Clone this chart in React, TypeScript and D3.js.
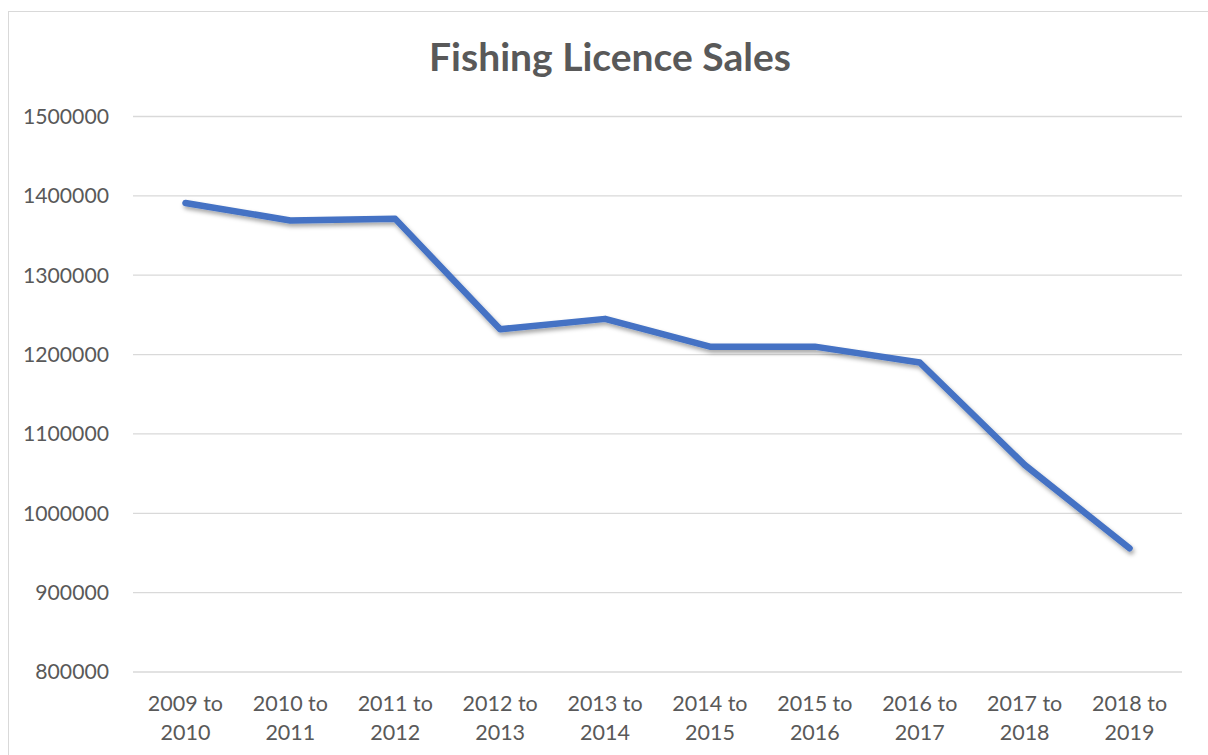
import React from "react";
import * as d3 from "d3";

const categories: string[] = [
  "2009 to 2010",
  "2010 to 2011",
  "2011 to 2012",
  "2012 to 2013",
  "2013 to 2014",
  "2014 to 2015",
  "2015 to 2016",
  "2016 to 2017",
  "2017 to 2018",
  "2018 to 2019",
];

const sales: number[] = [
  1391000, 1369000, 1371000, 1232000, 1245000, 1210000, 1210000, 1190000, 1061000, 956000,
];

const yTicks: number[] = [800000, 900000, 1000000, 1100000, 1200000, 1300000, 1400000, 1500000];

const title = "Fishing Licence Sales";

export default function App() {
  const W = 1208;
  const H = 755;
  const plotLeft = 133;
  const plotRight = 1182;
  const plotTop = 116.5;
  const plotBottom = 672;

  const x = d3.scaleBand<string>().domain(categories).range([plotLeft, plotRight]);
  const y = d3.scaleLinear().domain([800000, 1500000]).range([plotBottom, plotTop]);

  const line = d3
    .line<number>()
    .x((_, i) => (x(categories[i]) as number) + x.bandwidth() / 2)
    .y((d) => y(d));

  const font = "Lato, 'Open Sans', sans-serif";
  const textColor = "#595959";

  return (
    <svg
      width={W}
      height={H}
      style={{ position: "fixed", left: 0, top: 0, background: "#fff" }}
    >
      <defs>
        <filter id="shadow" x="-10%" y="-10%" width="120%" height="130%">
          <feDropShadow dx="1.5" dy="3" stdDeviation="2" floodColor="#000" floodOpacity="0.35" />
        </filter>
      </defs>
      <rect x={0} y={0} width={W} height={H} fill="#fff" />
      <rect x={8.5} y={11.5} width={1220} height={760} fill="#fff" stroke="#d9d9d9" strokeWidth={1} />

      <text
        x={610}
        y={71}
        textAnchor="middle"
        fontFamily={font}
        fontWeight="bold"
        fontSize={39}
        fill={textColor}
      >
        {title}
      </text>

      {yTicks.map((t) => (
        <g key={t}>
          <line x1={plotLeft} x2={plotRight} y1={y(t)} y2={y(t)} stroke="#d9d9d9" strokeWidth={1.3} />
          <text
            x={109}
            y={y(t)}
            dy="0.35em"
            textAnchor="end"
            fontFamily={font}
            fontSize={21.2}
            fill={textColor}
          >
            {t}
          </text>
        </g>
      ))}

      {categories.map((c) => {
        const parts = c.split(" to ");
        const cx = (x(c) as number) + x.bandwidth() / 2;
        return (
          <text key={c} x={cx} textAnchor="middle" fontFamily={font} fontSize={21.5} fill={textColor}>
            <tspan x={cx} y={711}>{parts[0] + " to"}</tspan>
            <tspan x={cx} y={740}>{parts[1]}</tspan>
          </text>
        );
      })}

      <path
        d={line(sales) || ""}
        fill="none"
        stroke="#4472c4"
        strokeWidth={6.5}
        strokeLinecap="round"
        strokeLinejoin="round"
        filter="url(#shadow)"
      />
    </svg>
  );
}
